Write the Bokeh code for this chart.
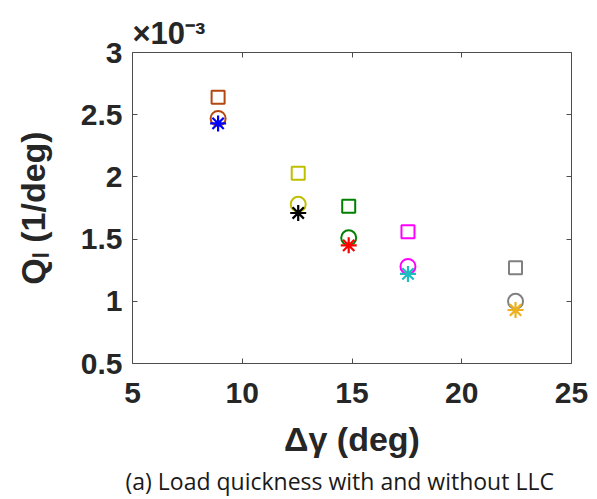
from bokeh.plotting import figure
from bokeh.models import (Range1d, FixedTicker, LinearAxis, Title,
                          CustomJSTickFormatter)
from bokeh.embed import file_html
from bokeh.resources import INLINE

# ---- data (Q_l in 1/deg, delta gamma in deg) ----
delta_gamma = [8.9, 12.55, 14.85, 17.55, 22.45]
q_square = [2.64e-3, 2.03e-3, 1.765e-3, 1.56e-3, 1.27e-3]
q_circle = [2.47e-3, 1.78e-3, 1.51e-3, 1.28e-3, 1.00e-3]
q_star = [2.43e-3, 1.71e-3, 1.45e-3, 1.22e-3, 0.93e-3]
group_colors = ["#B4460F", "#BFBF00", "#008000", "#FF00FF", "#808080"]
star_colors = ["#0000FF", "#000000", "#FF0000", "#1BBFBF", "#EDB120"]
x_ticks = [5, 10, 15, 20, 25]
y_ticks = [0.5e-3, 1.0e-3, 1.5e-3, 2.0e-3, 2.5e-3, 3.0e-3]
x_label = "\u0394\u03b3 (deg)"
y_label = "Q\u2097 (1/deg)"
exponent_text = "\u00d710\u207b\u00b3"
caption = "(a) Load quickness with and without LLC"

TXT = "#262626"
AXC = "#4d4d4d"
FONT = "Liberation Sans"

p = figure(width=597, height=499, output_backend="svg", toolbar_location=None,
           x_range=Range1d(5, 25), y_range=Range1d(0.5e-3, 3.0e-3),
           x_axis_location=None, y_axis_location=None,
           title=exponent_text, title_location="above",
           min_border_left=132, min_border_right=26,
           min_border_top=52, min_border_bottom=134)
p.outline_line_color = None
p.grid.visible = False
p.background_fill_color = "white"
p.border_fill_color = "white"

p.title.align = "left"
p.title.offset = 0
p.title.text_font = FONT
p.title.text_font_size = "31px"
p.title.text_font_style = "bold"
p.title.text_color = TXT
p.title.standoff = 3

fmt_y = CustomJSTickFormatter(code="return String(parseFloat((tick*1000).toFixed(2)));")
fmt_none = CustomJSTickFormatter(code="return '';")


def style(ax, show_labels):
    ax.axis_line_color = AXC
    ax.axis_line_width = 1
    ax.major_tick_line_color = AXC
    ax.major_tick_in = 5
    ax.major_tick_out = 0
    ax.minor_tick_line_color = None
    ax.major_label_text_font = FONT
    ax.major_label_text_font_style = "bold"
    ax.major_label_text_color = TXT
    ax.major_label_text_font_size = "30px"
    ax.axis_label_text_font = FONT
    ax.axis_label_text_font_style = "bold"
    ax.axis_label_text_font_size = "34px"
    ax.axis_label_text_color = TXT
    if not show_labels:
        ax.formatter = fmt_none
        ax.major_label_standoff = 0
        ax.major_label_text_font_size = "1px"


xb = LinearAxis(ticker=FixedTicker(ticks=x_ticks), axis_label=x_label)
style(xb, True)
xb.major_label_standoff = 19
xb.axis_label_standoff = 14
p.add_layout(xb, "below")
xt = LinearAxis(ticker=FixedTicker(ticks=x_ticks))
style(xt, False)
p.add_layout(xt, "above")
yl = LinearAxis(ticker=FixedTicker(ticks=y_ticks), formatter=fmt_y,
                axis_label=y_label)
style(yl, True)
yl.major_label_standoff = 10
yl.axis_label_standoff = 26
p.add_layout(yl, "left")
yr = LinearAxis(ticker=FixedTicker(ticks=y_ticks))
style(yr, False)
p.add_layout(yr, "right")

cap = Title(text=caption, align="left", offset=-7, text_font="Open Sans",
            text_font_size="23px", text_font_style="normal", text_color="#1a1a1a",
            standoff=5)
p.add_layout(cap, "below")

# ---- markers ----
p.scatter(delta_gamma, q_square, marker="square", size=13, line_width=2,
          fill_color=None, line_color=group_colors)
p.scatter(delta_gamma, q_circle, marker="circle", size=15, line_width=2,
          fill_color=None, line_color=group_colors)
p.scatter(delta_gamma, q_star, marker="asterisk", size=16, line_width=2.2,
          line_color=star_colors)

open("out.html", "w").write(file_html(p, INLINE))
